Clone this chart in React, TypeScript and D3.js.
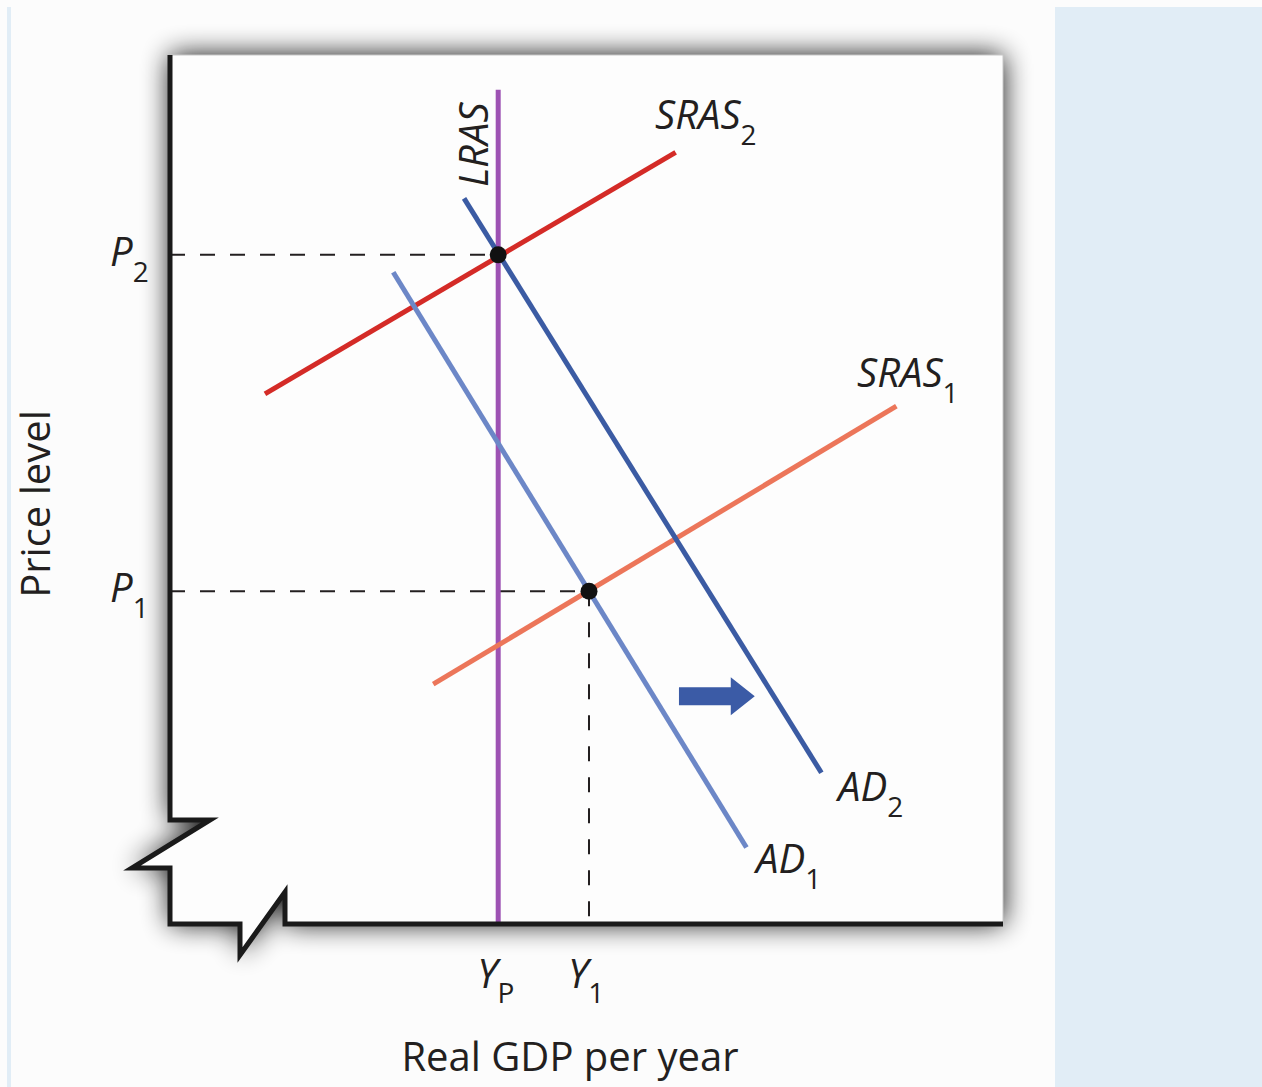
import React from "react";
import * as d3 from "d3";

// ---- data (abstract units: 0..100 on both axes) ----
const curveNames = ["LRAS", "SRAS2", "SRAS1", "AD1", "AD2"];
const curveX1 = [39.4, 11.4, 31.6, 26.8, 35.3];
const curveY1 = [96.0, 61.0, 27.6, 75.0, 83.5];
const curveX2 = [39.4, 60.7, 87.2, 69.2, 78.2];
const curveY2 = [0.0, 88.8, 59.6, 8.8, 17.4];
const curveColors = ["#9d52b3", "#d42b27", "#ec765a", "#6c87c7", "#3b5ba3"];

const equilibriumX = [39.4, 50.3];
const equilibriumY = [77.0, 38.3];
const priceLabels = ["2", "1"]; // P2, P1
const outputLabels = ["P", "1"]; // YP, Y1
const shiftArrowX = [61.1, 70.2];
const shiftArrowY = 26.2;

const W = 1262;
const H = 1087;
const X0 = 170, X1 = 1003, Y0 = 924, Y1 = 55;
const FONT = "'Open Sans', 'Noto Sans', sans-serif";
const TXT = "#231f20";

export default function App() {
  const x = d3.scaleLinear().domain([0, 100]).range([X0, X1]);
  const y = d3.scaleLinear().domain([0, 100]).range([Y0, Y1]);
  const line = d3.line<[number, number]>().x((d) => x(d[0])).y((d) => y(d[1]));

  // panel outline with axis break
  const panel = d3.path();
  panel.moveTo(X0, Y1);
  panel.lineTo(X1, Y1);
  panel.lineTo(X1, Y0);
  panel.lineTo(285, Y0);
  panel.lineTo(285, 892);
  panel.lineTo(240, 955);
  panel.lineTo(240, Y0);
  panel.lineTo(X0, Y0);
  panel.lineTo(X0, 868);
  panel.lineTo(132, 868);
  panel.lineTo(210, 820);
  panel.lineTo(X0, 820);
  panel.closePath();

  const axis = d3.path();
  axis.moveTo(X0, Y1);
  axis.lineTo(X0, 820);
  axis.lineTo(210, 820);
  axis.lineTo(132, 868);
  axis.lineTo(X0, 868);
  axis.lineTo(X0, Y0);
  axis.lineTo(240, Y0);
  axis.lineTo(240, 955);
  axis.lineTo(285, 892);
  axis.lineTo(285, Y0);
  axis.lineTo(X1, Y0);

  const ax0 = x(shiftArrowX[0]);
  const ax1 = x(shiftArrowX[1]);
  const ay = y(shiftArrowY);
  const headLen = 24;
  const arrowPath = `M${ax0},${ay - 9}L${ax1 - headLen},${ay - 9}L${ax1 - headLen},${ay - 19}L${ax1},${ay}L${ax1 - headLen},${ay + 19}L${ax1 - headLen},${ay + 9}L${ax0},${ay + 9}Z`;

  const labelFs = 40;
  const subFs = 28;

  return (
    <svg
      width={W}
      height={H}
      style={{ position: "absolute", left: 0, top: 0, display: "block" }}
      fontFamily={FONT}
    >
      <defs>
        <filter id="sh" x="-20%" y="-20%" width="140%" height="140%">
          <feGaussianBlur stdDeviation="14" />
        </filter>
      </defs>
      <rect x={0} y={0} width={W} height={H} fill="#fcfcfc" />
      <rect x={7} y={7} width={4} height={H - 7} fill="#e1edf6" />
      <rect x={1055} y={7} width={W - 1055} height={H - 7} fill="#e1edf6" />

      {/* shadow + panel */}
      <path d={panel.toString()} fill="#000" opacity={0.95} filter="url(#sh)" />
      <path d={panel.toString()} fill="#fdfdfd" stroke="#c8c8c8" strokeWidth={1} />

      {/* dashed guides */}
      {equilibriumX.map((ex, i) => (
        <line
          key={"h" + i}
          x1={x(0)}
          x2={x(ex)}
          y1={y(equilibriumY[i])}
          y2={y(equilibriumY[i])}
          stroke={TXT}
          strokeWidth={2}
          strokeDasharray="15 15"
        />
      ))}
      <line
        x1={x(equilibriumX[1])}
        x2={x(equilibriumX[1])}
        y1={y(equilibriumY[1])}
        y2={y(0)}
        stroke={TXT}
        strokeWidth={2}
        strokeDasharray="15 16"
      />

      {/* curves */}
      {curveNames.map((n, i) => (
        <path
          key={n}
          d={line([
            [curveX1[i], curveY1[i]],
            [curveX2[i], curveY2[i]],
          ]) || ""}
          stroke={curveColors[i]}
          strokeWidth={5}
          fill="none"
        />
      ))}

      {/* equilibrium dots */}
      {equilibriumX.map((ex, i) => (
        <circle key={"d" + i} cx={x(ex)} cy={y(equilibriumY[i])} r={8.5} fill="#111" />
      ))}

      {/* shift arrow */}
      <path d={arrowPath} fill="#3b5ba6" />

      {/* axis */}
      <path d={axis.toString()} fill="none" stroke="#1a1a1a" strokeWidth={5} strokeLinejoin="miter" />

      {/* curve labels */}
      <text
        transform={`translate(${x(curveX1[0]) - 10},${y(curveY1[0]) + 55}) rotate(-90)`}
        textAnchor="middle"
        fontSize={labelFs}
        fontStyle="italic"
        fill={TXT}
      >
        LRAS
      </text>
      <text x={655} y={129} fontSize={labelFs} fill={TXT}>
        <tspan fontStyle="italic">SRAS</tspan>
        <tspan fontSize={subFs} dy={16}>2</tspan>
      </text>
      <text x={857} y={387} fontSize={labelFs} fill={TXT}>
        <tspan fontStyle="italic">SRAS</tspan>
        <tspan fontSize={subFs} dy={16}>1</tspan>
      </text>
      <text x={838} y={801} fontSize={labelFs} fill={TXT}>
        <tspan fontStyle="italic">AD</tspan>
        <tspan fontSize={subFs} dy={16}>2</tspan>
      </text>
      <text x={756} y={873} fontSize={labelFs} fill={TXT}>
        <tspan fontStyle="italic">AD</tspan>
        <tspan fontSize={subFs} dy={16}>1</tspan>
      </text>

      {/* price tick labels */}
      {equilibriumY.map((ey, i) => (
        <text key={"p" + i} x={110} y={y(ey) + 11} fontSize={labelFs} fill={TXT}>
          <tspan fontStyle="italic">P</tspan>
          <tspan fontSize={subFs} dy={16}>{priceLabels[i]}</tspan>
        </text>
      ))}
      {/* output tick labels */}
      {equilibriumX.map((ex, i) => (
        <text key={"y" + i} x={x(ex) - 21} y={988} fontSize={labelFs} fill={TXT}>
          <tspan fontStyle="italic">Y</tspan>
          <tspan fontSize={subFs} dy={15}>{outputLabels[i]}</tspan>
        </text>
      ))}

      {/* axis titles */}
      <text
        transform="translate(50,504) rotate(-90)"
        textAnchor="middle"
        fontSize={40}
        fill={TXT}
      >
        Price level
      </text>
      <text x={570} y={1071} textAnchor="middle" fontSize={40} fill={TXT}>
        Real GDP per year
      </text>
    </svg>
  );
}
